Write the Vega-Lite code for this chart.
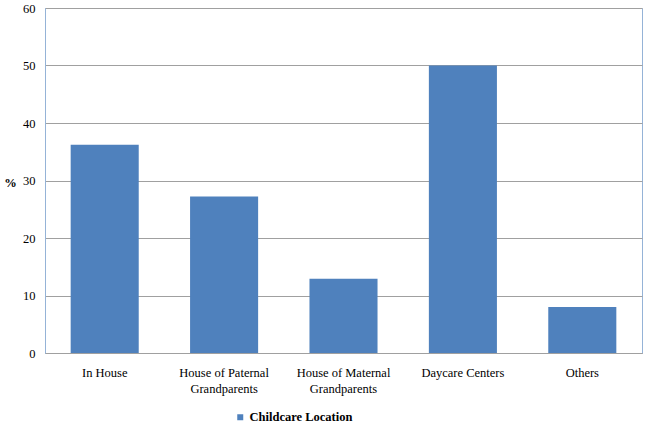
{
  "$schema": "https://vega.github.io/schema/vega-lite/v6.json",
  "autosize": "none",
  "width": 597,
  "height": 345,
  "padding": {"left": 45, "top": 8, "right": 5, "bottom": 74},
  "background": "white",
  "config": {
    "view": {"stroke": "#95B3D7", "strokeWidth": 1},
    "font": "Liberation Serif"
  },
  "data": {
    "values": [
      {"location": "In House", "pct": 36.2, "series": "Childcare Location"},
      {"location": "House of Paternal Grandparents", "pct": 27.2, "series": "Childcare Location"},
      {"location": "House of Maternal Grandparents", "pct": 12.9, "series": "Childcare Location"},
      {"location": "Daycare Centers", "pct": 50.0, "series": "Childcare Location"},
      {"location": "Others", "pct": 8.0, "series": "Childcare Location"}
    ]
  },
  "mark": {"type": "bar"},
  "encoding": {
    "x": {
      "field": "location",
      "type": "nominal",
      "sort": null,
      "scale": {"paddingInner": 0.43, "paddingOuter": 0.215},
      "axis": {
        "title": null,
        "labelAngle": 0,
        "labelFont": "Liberation Serif",
        "labelFontSize": 12.5,
        "labelColor": "#000000",
        "labelPadding": 13,
        "labelLineHeight": 16,
        "ticks": false,
        "domainColor": "#A0A0A0",
        "labelExpr": "split(replace(datum.label, ' Grandparents', '|Grandparents'), '|')"
      }
    },
    "y": {
      "field": "pct",
      "type": "quantitative",
      "scale": {"domain": [0, 60]},
      "axis": {
        "title": "%",
        "titleAngle": 0,
        "titleFont": "Liberation Serif",
        "titleFontSize": 12.5,
        "titleFontWeight": "bold",
        "titleX": -35,
        "titleY": 174,
        "titleAlign": "center",
        "titleBaseline": "middle",
        "values": [0, 10, 20, 30, 40, 50, 60],
        "labelFont": "Liberation Serif",
        "labelFontSize": 12.5,
        "labelColor": "#000000",
        "labelPadding": 10,
        "ticks": false,
        "domainColor": "#95B3D7",
        "gridColor": "#A0A0A0",
        "gridWidth": 1
      }
    },
    "color": {
      "field": "series",
      "type": "nominal",
      "scale": {"range": ["#4F81BD"]},
      "legend": {
        "title": null,
        "orient": "none",
        "legendX": 189,
        "legendY": 403,
        "symbolType": "square",
        "symbolSize": 36,
        "symbolStrokeWidth": 0,
        "labelFont": "Liberation Serif",
        "labelFontSize": 12.5,
        "labelFontWeight": "bold",
        "labelColor": "#000000",
        "labelOffset": 3
      }
    }
  }
}
